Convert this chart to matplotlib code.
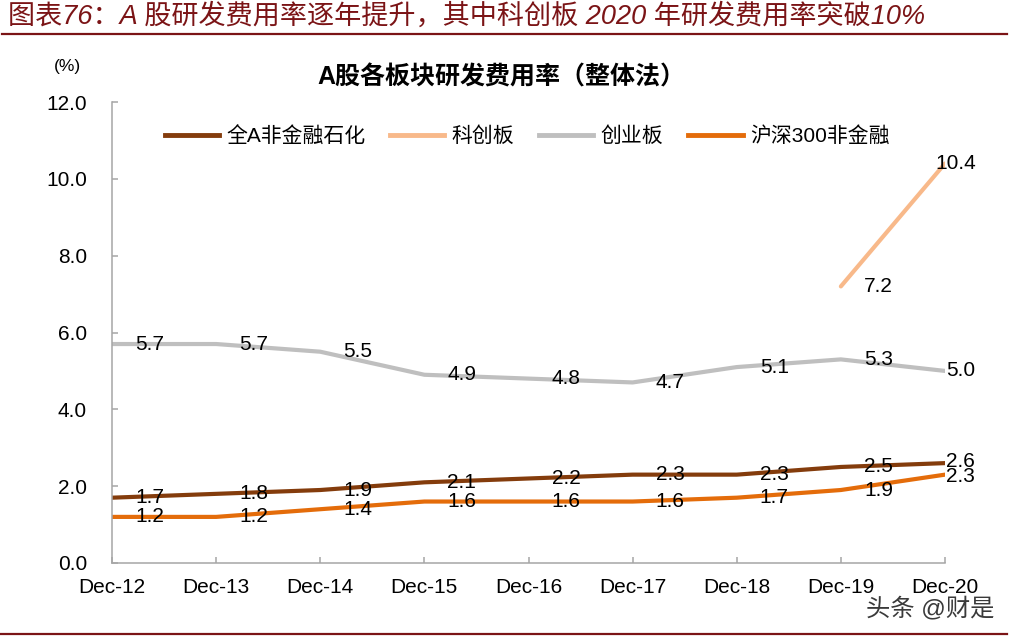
import numpy as np
import matplotlib
matplotlib.use("Agg")
import matplotlib.pyplot as plt
from matplotlib.lines import Line2D

plt.rcParams['font.family'] = ['Liberation Sans', 'Noto Sans CJK SC', 'DejaVu Sans']

# data
dates = ["Dec-12", "Dec-13", "Dec-14", "Dec-15", "Dec-16", "Dec-17", "Dec-18", "Dec-19", "Dec-20"]
quan_a = [1.7, 1.8, 1.9, 2.1, 2.2, 2.3, 2.3, 2.5, 2.6]
kechuang = [np.nan, np.nan, np.nan, np.nan, np.nan, np.nan, np.nan, 7.2, 10.4]
chuangye = [5.7, 5.7, 5.5, 4.9, 4.8, 4.7, 5.1, 5.3, 5.0]
hs300 = [1.2, 1.2, 1.4, 1.6, 1.6, 1.6, 1.7, 1.9, 2.3]
names = ["全A非金融石化", "科创板", "创业板", "沪深300非金融"]

c_brown = "#843C0C"
c_peach = "#F8B98A"
c_gray = "#BFBFBF"
c_orange = "#E46C0A"
axis_c = "#A6A6A6"
red = "#7B1416"

fig = plt.figure(figsize=(10.15, 6.4), dpi=100)
ax = fig.add_axes([112/1015, 1-563/640, (945-112)/1015, (563-102)/640])

x = np.arange(len(dates))
ax.plot(x, quan_a, color=c_brown, lw=3, solid_capstyle='round')
ax.plot(x, kechuang, color=c_peach, lw=3, solid_capstyle='round')
ax.plot(x, chuangye, color=c_gray, lw=3, solid_capstyle='round')
ax.plot(x, hs300, color=c_orange, lw=3, solid_capstyle='round')

# data labels, to the right of the points
def labels(vals, last_dx=11, last_dy=0):
    for i, v in enumerate(vals):
        if np.isnan(v):
            continue
        last = i == len(vals) - 1
        dx = last_dx if last else 27
        dy = last_dy if last else 0
        ax.annotate("%.1f" % v, (i, v), xytext=(dx, dy), textcoords='offset points',
                    ha='center', va='center', fontsize=15, color='black',
                    annotation_clip=False)

labels(chuangye)
labels(quan_a, last_dy=1.5)
labels(hs300, last_dy=-1)
labels(kechuang, last_dx=8)

ax.set_xlim(0, 8)
ax.set_ylim(0, 12)
ax.set_xticks(x)
ax.set_xticklabels(dates)
ax.set_yticks(np.arange(0, 12.1, 2))
ax.set_yticklabels(["%.1f" % t for t in np.arange(0, 12.1, 2)])
ax.tick_params(axis='x', direction='in', length=4.5, width=1.1, color=axis_c, pad=11, labelsize=15)
ax.tick_params(axis='y', direction='in', length=4.5, width=1.1, color=axis_c, pad=18, labelsize=15)
for s in ['top', 'right']:
    ax.spines[s].set_visible(False)
for s in ['left', 'bottom']:
    ax.spines[s].set_color(axis_c)
    ax.spines[s].set_linewidth(1.1)

handles = [Line2D([], [], color=c, lw=3.5) for c in [c_brown, c_peach, c_gray, c_orange]]
leg = fig.legend(handles, names, loc='center', bbox_to_anchor=(527/1015, 1-136/640), ncol=4,
                 frameon=False, fontsize=15, handlelength=2.6, handletextpad=0.35,
                 columnspacing=1.2)

fig.text(501/1015, 1-77/640, "A股各板块研发费用率（整体法）", ha='center', va='center',
         fontsize=18, fontweight='bold')
fig.text(67/1015, 1-67/640, "(%)", ha='center', va='center', fontsize=12.5)

# header
fig.text(8/1015, 1-17/640, "图表76：A 股研发费用率逐年提升，其中科创板 2020 年研发费用率突破10%",
         ha='left', va='center', fontsize=19.5, color=red, style='italic')
fig.add_artist(Line2D([2/1015, 1007/1015], [1-34/640, 1-34/640], color=red, lw=1.6))
fig.add_artist(Line2D([0, 1007/1015], [1-634/640, 1-634/640], color=red, lw=1.6))

fig.text(930/1015, 1-608/640, "头条 @财是", ha='center', va='center', fontsize=17.5, color='#3a3a3a')

fig.savefig("out.png", dpi=100)
